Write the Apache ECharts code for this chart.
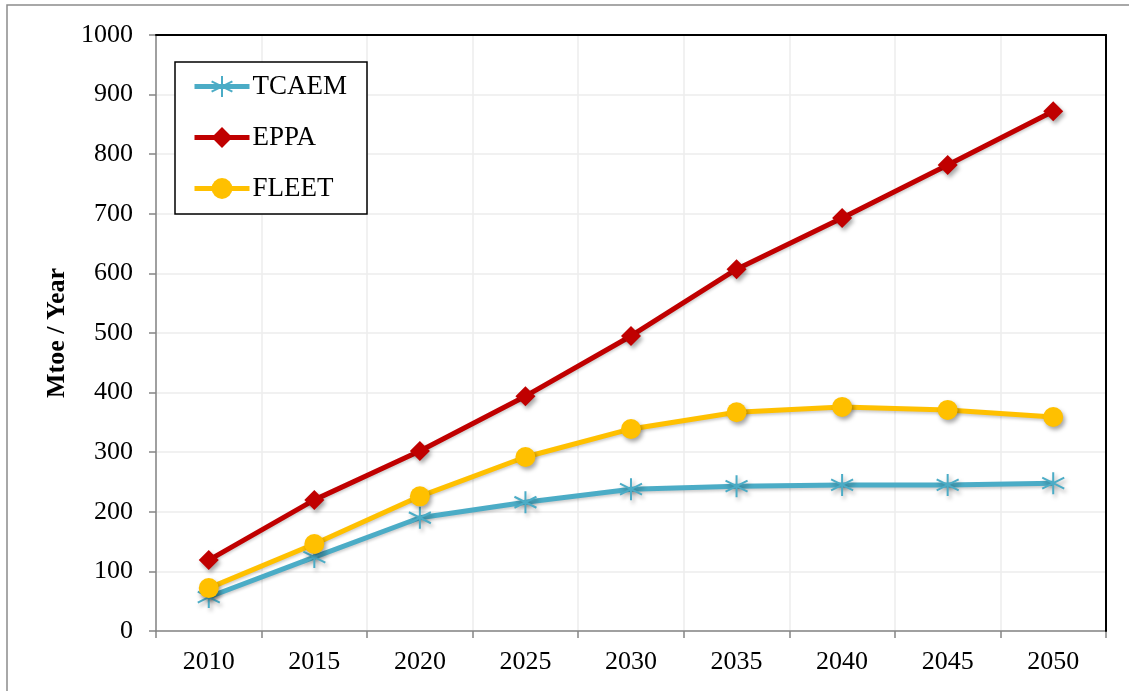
<!DOCTYPE html>
<html>
<head>
<meta charset="utf-8">
<script src="https://cdn.jsdelivr.net/npm/echarts@6/dist/echarts.min.js"></script>
<style>
  html, body { margin: 0; padding: 0; background: #fff; }
  #chart { width: 1129px; height: 691px; }
</style>
</head>
<body>
<div id="chart"></div>
<script>
// data
const years = ['2010', '2015', '2020', '2025', '2030', '2035', '2040', '2045', '2050'];
const tcaem = [57, 124, 190, 216, 238, 243, 245, 245, 248];
const eppa = [119, 220, 302, 394, 495, 607, 693, 782, 872];
const fleet = [72, 146, 226, 292, 339, 367, 376, 371, 359];

const FONT = '"Liberation Serif", "DejaVu Serif", serif';
const asterisk = 'path://M0,-10L0,10M-8.66,-5L8.66,5M-8.66,5L8.66,-5';

const markerShadow = {
  shadowBlur: 4,
  shadowColor: 'rgba(0,0,0,0.35)',
  shadowOffsetX: 2,
  shadowOffsetY: 3
};

function lineSeries(name, data, color, symbol, size, extraItem) {
  return {
    name: name,
    type: 'line',
    data: data,
    symbol: symbol,
    symbolSize: size,
    showAllSymbol: true,
    lineStyle: {
      color: color,
      width: 5,
      shadowBlur: 3,
      shadowColor: 'rgba(0,0,0,0.2)',
      shadowOffsetY: 2
    },
    itemStyle: Object.assign({ color: color, opacity: 1 }, markerShadow, extraItem || {}),
    emphasis: { disabled: true }
  };
}

const chart = echarts.init(document.getElementById('chart'));

chart.setOption({
  animation: false,
  backgroundColor: '#fff',
  textStyle: { fontFamily: FONT },
  graphic: [{
    type: 'rect',
    shape: { x: 7, y: 5, width: 1200, height: 800 },
    style: { fill: 'none', stroke: '#8c8c8c', lineWidth: 1.5 },
    silent: true
  }],
  grid: {
    left: 156,
    right: 23,
    top: 35,
    bottom: 60
  },
  legend: {
    left: 175,
    top: 62,
    orient: 'vertical',
    padding: [11, 20, 12, 17],
    itemGap: 24,
    itemWidth: 55,
    itemHeight: 26,
    borderColor: '#000',
    borderWidth: 1.5,
    backgroundColor: '#fff',
    lineStyle: { width: 5 },
    textStyle: { fontFamily: FONT, fontSize: 27, color: '#000', width: 95, padding: [0, 0, 0, -2] },
    data: ['TCAEM', 'EPPA', 'FLEET']
  },
  xAxis: [{
    type: 'category',
    data: years,
    boundaryGap: true,
    axisLine: { lineStyle: { color: '#858585', width: 1.5 } },
    axisTick: { show: true, length: 7, inside: false, lineStyle: { color: '#858585', width: 1.5 } },
    axisLabel: { fontFamily: FONT, fontSize: 26, color: '#000', margin: 18 },
    splitLine: { show: true, lineStyle: { color: '#ececec', width: 1.5 } }
  }, {
    type: 'category',
    data: years,
    position: 'top',
    z: 10,
    axisLine: { show: true, onZero: false, lineStyle: { color: '#000', width: 2 } },
    axisTick: { show: false },
    axisLabel: { show: false },
    splitLine: { show: false }
  }],
  yAxis: [{
    type: 'value',
    min: 0,
    max: 1000,
    interval: 100,
    name: 'Mtoe / Year',
    nameLocation: 'middle',
    nameRotate: 90,
    nameGap: 84,
    nameTextStyle: { fontFamily: FONT, fontSize: 26, fontWeight: 'bold', color: '#000' },
    axisLine: { show: true, lineStyle: { color: '#858585', width: 1.5 } },
    axisTick: { show: true, length: 7, lineStyle: { color: '#858585', width: 1.5 } },
    axisLabel: { fontFamily: FONT, fontSize: 26, color: '#000', margin: 23, formatter: v => String(v) },
    splitLine: { show: true, lineStyle: { color: '#ececec', width: 1.5 } }
  }, {
    type: 'value',
    min: 0,
    max: 1000,
    interval: 100,
    position: 'right',
    z: 10,
    axisLine: { show: true, onZero: false, lineStyle: { color: '#000', width: 2 } },
    axisTick: { show: false },
    axisLabel: { show: false },
    splitLine: { show: false }
  }],
  series: [
    lineSeries('TCAEM', tcaem, '#4BACC6', asterisk, 22, { borderColor: '#4BACC6', borderWidth: 2 }),
    lineSeries('EPPA', eppa, '#C00000', 'diamond', 20),
    lineSeries('FLEET', fleet, '#FFC000', 'circle', 20)
  ]
});
</script>
</body>
</html>
